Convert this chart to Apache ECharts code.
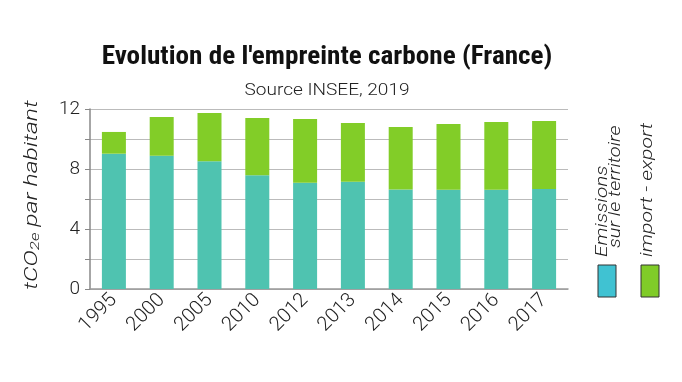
<!DOCTYPE html>
<html><head><meta charset="utf-8">
<script src="https://cdn.jsdelivr.net/npm/echarts@6/dist/echarts.min.js"></script>
<style>html,body{margin:0;padding:0;background:#fff}#c{width:682px;height:382px}</style>
</head><body><div id="c"></div>
<script>
const years = ['1995','2000','2005','2010','2012','2013','2014','2015','2016','2017'];
const territoire = [9.02, 8.89, 8.51, 7.58, 7.09, 7.15, 6.64, 6.62, 6.62, 6.67];
const importExport = [1.45, 2.58, 3.22, 3.82, 4.24, 3.92, 4.16, 4.38, 4.51, 4.53];
const yTicks = [0, 4, 8, 12];

const chart = echarts.init(document.getElementById('c'), null, {renderer:'canvas'});
const F = 'Roboto';
const lightItalic = {fontFamily:F, fontWeight:300, fontStyle:'italic', fill:'#222'};
chart.setOption({
  backgroundColor:'#fff',
  animation:false,
  grid:{left:90, top:109, width:478, height:180},
  xAxis:{type:'category', data:years,
    axisLine:{lineStyle:{color:'#999', width:1.5}},
    axisTick:{show:false},
    axisLabel:{rotate:45, fontFamily:F, fontWeight:300, fontSize:20, color:'#222', margin:8}},
  yAxis:{type:'value', min:0, max:12, interval:2,
    axisLine:{show:true, lineStyle:{color:'#888', width:1.5}},
    axisTick:{show:true, length:5, lineStyle:{color:'#888'}},
    splitLine:{lineStyle:{color:'#bbb', width:1.2}},
    axisLabel:{fontFamily:F, fontWeight:300, fontSize:19, color:'#222', margin:10,
      formatter:v=> yTicks.includes(v) ? String(v) : ''}},
  series:[
    {name:'Emissions sur le territoire', type:'bar', stack:'t', data:territoire, barWidth:24,
     itemStyle:{color:'#4fc3b0'}},
    {name:'import - export', type:'bar', stack:'t', data:importExport, barWidth:24,
     itemStyle:{color:'#82cd28'}}
  ],
  graphic:[
    {type:'text', x:327, y:57, scaleX:1.045,
     style:{text:"Evolution de l'empreinte carbone (France)", fontFamily:'"Roboto Condensed","Liberation Sans Narrow",Roboto', fontWeight:'bold', fontSize:26, fill:'#111', textAlign:'center', textVerticalAlign:'middle'}},
    {type:'text', x:327, y:91, scaleX:1.12,
     style:{text:'Source INSEE, 2019', fontFamily:F, fontWeight:300, fontSize:17, fill:'#222', textAlign:'center', textVerticalAlign:'middle'}},
    {type:'text', x:32, y:195, rotation:Math.PI/2, scaleX:1.3,
     style:{text:'{a|tCO}{s|2e}{a| par habitant}', textAlign:'center', textVerticalAlign:'middle',
       rich:{a:Object.assign({fontSize:19}, lightItalic), s:Object.assign({fontSize:13, padding:[8,0,0,0]}, lightItalic)}}},
    {type:'rect', shape:{x:598, y:265, width:18, height:32}, style:{fill:'#40c2d2', stroke:'#333', lineWidth:1}},
    {type:'rect', shape:{x:641, y:265, width:18, height:32}, style:{fill:'#80cc28', stroke:'#333', lineWidth:1}},
    {type:'text', x:603, y:257, rotation:Math.PI/2, scaleX:1.3,
     style:Object.assign({text:'Emissions', fontSize:16, textAlign:'left', textVerticalAlign:'middle'}, lightItalic)},
    {type:'text', x:616, y:248, rotation:Math.PI/2, scaleX:1.25,
     style:Object.assign({text:'sur le territoire', fontSize:16, textAlign:'left', textVerticalAlign:'middle'}, lightItalic)},
    {type:'text', x:648, y:257, rotation:Math.PI/2, scaleX:1.33,
     style:Object.assign({text:'import - export', fontSize:16, textAlign:'left', textVerticalAlign:'middle'}, lightItalic)}
  ]
});
</script></body></html>
